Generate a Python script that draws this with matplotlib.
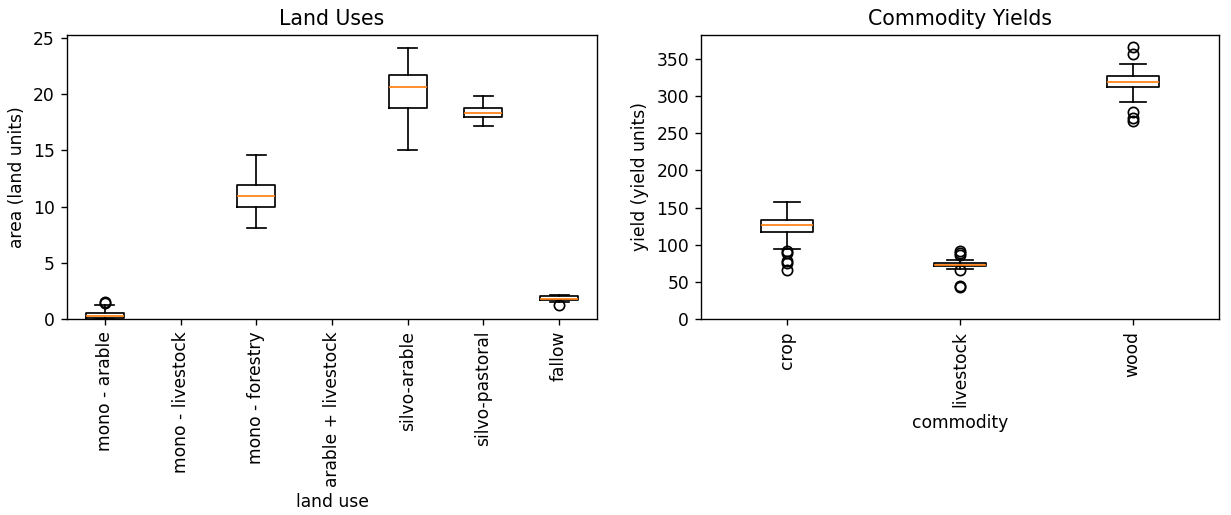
import matplotlib
matplotlib.use("Agg")
import matplotlib.pyplot as plt

# land uses (area, land units); two categories have no data
land_uses = ['mono - arable', 'mono - livestock', 'mono - forestry',
             'arable + livestock', 'silvo-arable', 'silvo-pastoral', 'fallow']
land_pos = [1, 3, 5, 6, 7]
land_q1 = [0.05, 9.95, 18.8, 17.95, 1.68]
land_med = [0.25, 10.9, 20.6, 18.3, 1.82]
land_q3 = [0.55, 11.9, 21.65, 18.75, 2.0]
land_lo = [0.0, 8.1, 15.05, 17.15, 1.5]
land_hi = [1.25, 14.6, 24.05, 19.8, 2.15]
land_fliers = [[1.45, 1.55], [], [], [], [1.25]]

# commodity yields (yield units)
commodities = ['crop', 'livestock', 'wood']
yield_q1 = [117, 71.5, 311.5]
yield_med = [127, 73.3, 318.5]
yield_q3 = [133.5, 75.3, 327]
yield_lo = [94, 67.3, 291.5]
yield_hi = [157.5, 79.5, 343]
yield_fliers = [[92, 89, 78, 75, 66.5],
                [92, 89, 86, 66, 45, 43],
                [366, 357, 279, 270, 267]]


def make_stats(q1, med, q3, lo, hi, fliers):
    return [dict(q1=a, med=b, q3=c, whislo=d, whishi=e, fliers=f)
            for a, b, c, d, e, f in zip(q1, med, q3, lo, hi, fliers)]


DPI = 123.1
fig = plt.figure(figsize=(1231 / DPI, 515 / DPI), dpi=DPI)
ax1 = fig.add_axes([0.0544, 0.3806, 0.4305, 0.5515])
ax2 = fig.add_axes([0.5695, 0.3806, 0.4208, 0.5515])

ax1.bxp(make_stats(land_q1, land_med, land_q3, land_lo, land_hi, land_fliers),
        positions=land_pos, widths=0.5)
ax1.set_xticks(range(1, len(land_uses) + 1))
ax1.set_xticklabels(land_uses, rotation=90)
ax1.set_xlim(0.5, len(land_uses) + 0.5)
ax1.set_ylim(bottom=0)
ax1.set_title('Land Uses')
ax1.set_xlabel('land use')
ax1.set_ylabel('area (land units)')

ax2.bxp(make_stats(yield_q1, yield_med, yield_q3, yield_lo, yield_hi, yield_fliers),
        positions=range(1, len(commodities) + 1), widths=0.3)
ax2.set_xticks(range(1, len(commodities) + 1))
ax2.set_xticklabels(commodities, rotation=90)
ax2.set_xlim(0.5, len(commodities) + 0.5)
ax2.set_ylim(bottom=0)
ax2.set_title('Commodity Yields')
ax2.set_xlabel('commodity')
ax2.set_ylabel('yield (yield units)')

fig.savefig('out.png', dpi=DPI)
